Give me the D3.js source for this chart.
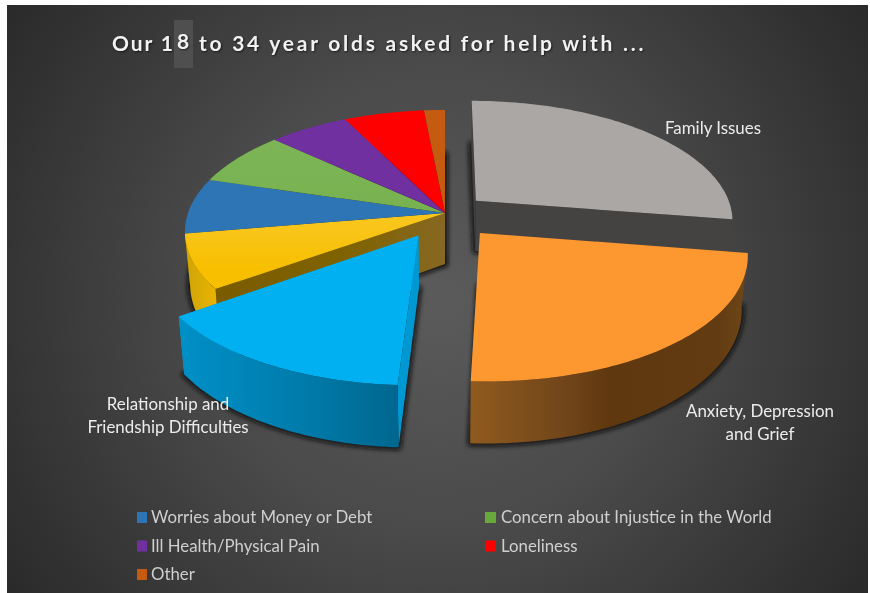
<!DOCTYPE html>
<html>
<head>
<meta charset="utf-8">
<script src="https://cdn.jsdelivr.net/npm/d3@7"></script>
<style>
  html, body { margin: 0; padding: 0; background: #fff; }
  svg { display: block; }
  text { font-family: Lato, "Open Sans", sans-serif; }
</style>
</head>
<body>
<svg id="chart" width="870" height="593"></svg>
<script>
// Share of help requests, percent, clockwise from twelve o'clock
const categories = [
  "Family Issues", "Anxiety, Depression and Grief", "Relationship and Friendship Difficulties",
  "Unnamed", "Worries about Money or Debt", "Concern about Injustice in the World",
  "Ill Health/Physical Pain", "Loneliness", "Other"
];
const shares = [27.5, 23.3, 14.3, 7.2, 7.4, 7.2, 5.8, 5.8, 1.5];
const explodeBy = [0.16, 0.21, 0.21, 0, 0, 0, 0, 0, 0];
const topColors = ["#aba7a5", "#fd9830", "#00b0f0", "#f8bf00", "#2e75b6", "#68a93b", "#7030a0", "#ff0000", "#c55a11"];
const sheenOn = [3, 5];
const legendItems = [4, 5, 6, 7, 8];

const svg = d3.select("#chart");
const defs = svg.append("defs");

// Perspective of the tilted pie plane
const cx = 445, cy = 213, radiusX = 257, tiltY = 118.9, persp = 0.154, depth = 51, baseShrink = 0.98;
const project = (X, Z, lower) => {
  const w = 1 + persp * Z;
  const sx = radiusX * X / w, sy = -tiltY * Z / w;
  return lower ? [cx + sx * baseShrink, cy + sy + depth / w] : [cx + sx, cy + sy];
};

const slices = d3.pie().sort(null).value(d => d).startAngle(0).endAngle(2 * Math.PI)(shares).map((d, i) => {
  const mid = (d.startAngle + d.endAngle) / 2;
  return {
    index: i, a0: d.startAngle, a1: d.endAngle,
    ox: explodeBy[i] * Math.sin(mid), oz: explodeBy[i] * Math.cos(mid)
  };
});

const rim = (s, a, lower) => project(s.ox + Math.sin(a), s.oz + Math.cos(a), lower);
const apex = (s, lower) => project(s.ox, s.oz, lower);
const sweep = (a0, a1) => {
  const n = Math.max(2, Math.ceil((a1 - a0) / 0.02));
  return d3.range(n + 1).map(k => a0 + (a1 - a0) * k / n);
};
const line = d3.line();
const closed = pts => line(pts) + "Z";
const sector = (s, lower) => closed([apex(s, lower), ...sweep(s.a0, s.a1).map(a => rim(s, a, lower))]);

// Horizontal shading on the cylinder walls and cut faces
const gradient = (id, x0, x1, stops) => {
  const g = defs.append("linearGradient").attr("id", id)
    .attr("gradientUnits", "userSpaceOnUse")
    .attr("x1", x0).attr("x2", x1).attr("y1", 0).attr("y2", 0);
  stops.forEach(([o, c]) => g.append("stop").attr("offset", o).attr("stop-color", c));
  return `url(#${id})`;
};
const wallFill = {
  1: gradient("wallOrange", 471, 745, [[0, "#8f5a1e"], [0.35, "#70451a"], [0.5, "#60380f"], [0.9, "#623b13"], [1, "#6e4617"]]),
  2: gradient("wallBlue", 184, 400, [[0, "#008fc6"], [0.45, "#007fb0"], [1, "#00678f"]]),
  3: gradient("wallYellow", 186, 216, [[0, "#cfa40a"], [1, "#e9b400"]])
};
const cutFill = {
  0: "#454342",
  2: "#0098d2",
  3: gradient("cutYellow", 215, 445, [[0, "#7a5c00"], [0.55, "#7f6200"], [1, "#876822"]])
};

// Canvas with a soft central glow
const glow = defs.append("radialGradient").attr("id", "backdrop")
  .attr("gradientUnits", "userSpaceOnUse").attr("cx", 437).attr("cy", 298).attr("r", 520);
[[0, "#5b5b5b"], [0.45, "#4a4a4a"], [1, "#2a2a2a"]].forEach(([o, c]) =>
  glow.append("stop").attr("offset", o).attr("stop-color", c));
svg.append("rect").attr("x", 7).attr("y", 5).attr("width", 861).attr("height", 588).attr("fill", "url(#backdrop)");

// Pale-to-saturated sheen across the far part of some slices
const sheen = defs.append("linearGradient").attr("id", "sheen")
  .attr("gradientUnits", "userSpaceOnUse").attr("x1", 0).attr("x2", 0).attr("y1", 130).attr("y2", 270);
[[0, "#fff", 0.14], [0.7, "#fff", 0.1], [1, "#fff", 0]].forEach(([o, c, a]) =>
  sheen.append("stop").attr("offset", o).attr("stop-color", c).attr("stop-opacity", a));

const blur = defs.append("filter").attr("id", "soft")
  .attr("x", "-10%").attr("y", "-10%").attr("width", "120%").attr("height", "120%");
blur.append("feGaussianBlur").attr("stdDeviation", 2);

// Shadows are cast by the lower outline of each group of slices
const shadows = svg.append("g").attr("filter", "url(#soft)");
slices.forEach(s => {
  shadows.append("path").attr("d", sector(s, true))
    .attr("fill", "#111").attr("stroke", "#111").attr("stroke-width", 6)
    .attr("stroke-linejoin", "round").attr("opacity", 0.85);
});

const pieLayer = svg.append("g");
const drawWalls = s => {
  const i = s.index;
  if (cutFill[i]) {
    [s.a0, s.a1].forEach(a => {
      pieLayer.append("path")
        .attr("d", closed([apex(s, false), rim(s, a, false), rim(s, a, true), apex(s, true)]))
        .attr("fill", cutFill[i]);
    });
  }
  const from = Math.max(s.a0, Math.PI / 2), to = Math.min(s.a1, 1.5 * Math.PI);
  if (to > from && wallFill[i]) {
    const arc = sweep(from, to);
    pieLayer.append("path")
      .attr("d", closed([...arc.map(a => rim(s, a, false)), ...arc.slice().reverse().map(a => rim(s, a, true))]))
      .attr("fill", wallFill[i]);
  }
};
const drawTop = s => {
  pieLayer.append("path").attr("d", sector(s, false)).attr("fill", topColors[s.index]);
  if (sheenOn.includes(s.index)) pieLayer.append("path").attr("d", sector(s, false)).attr("fill", "url(#sheen)");
};

// Painter's order: joined slices, then the far, right and front exploded slices
const joined = slices.filter(s => !explodeBy[s.index]);
joined.forEach(drawWalls);
joined.forEach(drawTop);
slices.filter(s => explodeBy[s.index]).forEach(s => { drawWalls(s); drawTop(s); });

// Title, with the enlarged digit on its lighter patch
svg.append("rect").attr("x", 174).attr("y", 20).attr("width", 19).attr("height", 48).attr("fill", "#4f4f4f");
const title = svg.append("g").attr("font-size", 21).attr("font-weight", 700).attr("fill", "#f2f2f2")
  .style("text-shadow", "1px 1px 2px rgba(0,0,0,.6)");
title.append("text").attr("x", 112).attr("y", 51).attr("letter-spacing", 1.9).text("Our 1");
title.append("text").attr("x", 177).attr("y", 49).text("8");
title.append("text").attr("x", 199).attr("y", 51).attr("letter-spacing", 2.75).text("to 34 year olds asked for help with ...");

// Labels set beside the three large slices
const sliceLabels = [
  { lines: ["Family Issues"], x: 713, y: 134 },
  { lines: ["Anxiety, Depression", "and Grief"], x: 760, y: 417 },
  { lines: ["Relationship and", "Friendship Difficulties"], x: 168, y: 410 }
];
sliceLabels.forEach(l => {
  l.lines.forEach((t, k) => {
    svg.append("text").attr("x", l.x).attr("y", l.y + k * 23).attr("text-anchor", "middle")
      .attr("font-size", 16.9).attr("fill", "#ececec").text(t);
  });
});

// Legend for the smaller slices, two columns
const legendX = d3.scaleOrdinal().domain([0, 1]).range([137, 485]);
const legendY = d3.scalePoint().domain([0, 1, 2]).range([518, 575]);
legendItems.forEach((idx, k) => {
  const col = k % 2, row = Math.floor(k / 2);
  svg.append("rect").attr("x", legendX(col)).attr("y", legendY(row) - 6)
    .attr("width", col ? 11 : 10).attr("height", 11).attr("fill", topColors[idx]);
  svg.append("text").attr("x", legendX(col) + (col ? 16 : 14)).attr("y", legendY(row) + 5)
    .attr("font-size", 16.8).attr("fill", "#cfcfcf").text(categories[idx]);
});
</script>
</body>
</html>
